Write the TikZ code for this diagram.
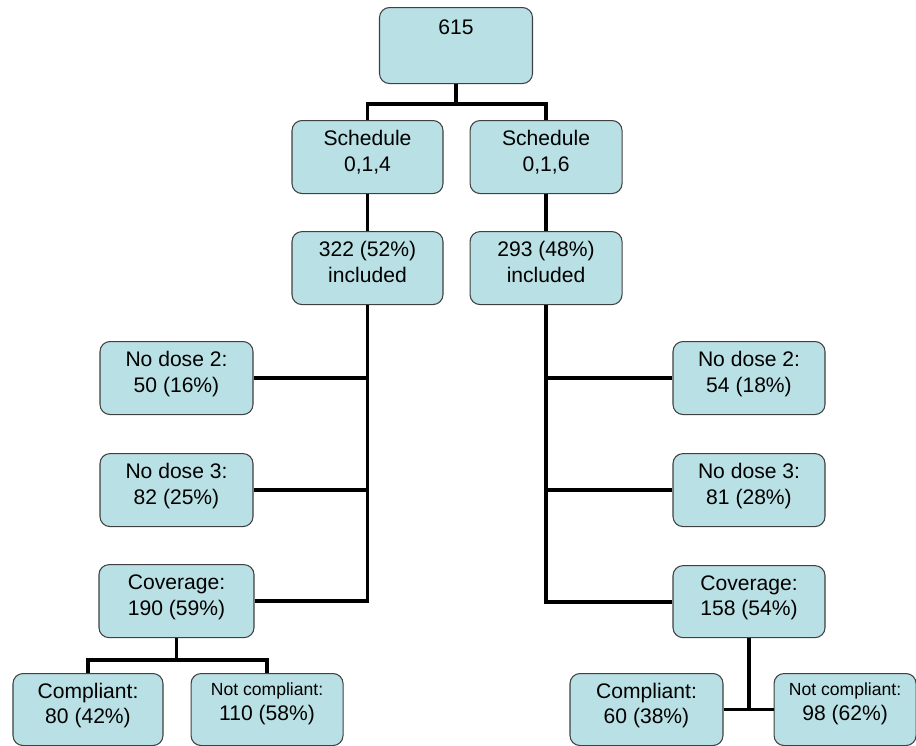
\documentclass[tikz,border=0pt]{standalone}
\usepackage{fontspec}
\setmainfont{Liberation Sans}
\usetikzlibrary{positioning}
\definecolor{boxfill}{RGB}{185,224,228}
\newcommand{\boxtxt}[2][12pt]{\parbox[t][1.3cm][t]{2.7cm}{\centering\rule{0pt}{#1}#2}}
\newcommand{\smalltxt}[1]{{\fontsize{10}{12}\selectfont #1}}

\begin{document}
\begin{tikzpicture}[
  node distance=0.74cm and 0.52cm,
  stage/.style={rectangle, draw=black!75, line width=0.6pt, fill=boxfill,
    rounded corners=0.2cm, minimum width=3.04cm, minimum height=1.46cm,
    inner sep=0pt, font=\fontsize{12}{14.5}\selectfont},
  conn/.style={line width=2.2pt}
]
\useasboundingbox (0,0) rectangle (18.32,-14.92);

% Top
\node[stage, anchor=north, minimum width=3.06cm, minimum height=1.52cm] (all) at (9.12,-0.14) {\boxtxt{615}};

% Schedules
\node[stage, anchor=north, minimum width=3.02cm] (s014) at (7.35,-2.40) {\boxtxt{Schedule\\0,1,4}};
\node[stage, right=0.52cm of s014] (s016) {\boxtxt{Schedule\\0,1,6}};
\node[stage, below=of s014, minimum width=3.02cm] (inc014) {\boxtxt{322 (52\%)\\included}};
\node[stage, below=of s016] (inc016) {\boxtxt{293 (48\%)\\included}};

\coordinate (split) at (9.12,-2.08);
\draw[conn] (all) -- (split);
\draw[conn] (s014.north) |- (split) -| (s016.north);
\draw[conn] (s014) -- (inc014);
\draw[conn] (s016) -- (inc016);

% Left branch
\node[stage, anchor=north, minimum width=3.06cm] (nod2a) at (3.53,-6.82) {\boxtxt{No dose 2:\\50 (16\%)}};
\node[stage, below=0.76cm of nod2a, minimum width=3.06cm] (nod3a) {\boxtxt{No dose 3:\\82 (25\%)}};
\node[stage, below=of nod3a, minimum width=3.1cm] (cova) {\boxtxt{Coverage:\\190 (59\%)}};

\draw[conn] (inc014.south) -- (inc014.south |- cova.east) -- (cova.east);
\draw[conn] (nod2a.east) -- (nod2a.east -| inc014.south);
\draw[conn] (nod3a.east) -- (nod3a.east -| inc014.south);

% Right branch
\node[stage, anchor=north] (nod2b) at (14.98,-6.82) {\boxtxt{No dose 2:\\54 (18\%)}};
\node[stage, below=0.76cm of nod2b] (nod3b) {\boxtxt{No dose 3:\\81 (28\%)}};
\node[stage, below=0.76cm of nod3b, minimum height=1.44cm] (covb) {\boxtxt{Coverage:\\158 (54\%)}};

\draw[conn] (inc016.south) -- (inc016.south |- covb.west) -- (covb.west);
\draw[conn] (nod2b.west) -- (nod2b.west -| inc016.south);
\draw[conn] (nod3b.west) -- (nod3b.west -| inc016.south);

% Compliance, left
\node[stage, anchor=north, minimum width=3.0cm, minimum height=1.44cm] (compa) at (1.76,-13.46) {\boxtxt{Compliant:\\80 (42\%)}};
\node[stage, right=0.54cm of compa, minimum height=1.44cm] (ncompa) {\boxtxt[10.5pt]{\smalltxt{Not compliant:}\\110 (58\%)}};

\draw[conn] (cova.south) -- ++(0,-0.44) coordinate (split2);
\draw[conn] (compa.north) |- (split2) -| (ncompa.north);

% Compliance, right
\node[stage, anchor=north, minimum width=3.06cm, minimum height=1.44cm] (compb) at (12.93,-13.46) {\boxtxt{Compliant:\\60 (38\%)}};
\node[stage, right=1.0cm of compb, minimum width=2.84cm, minimum height=1.44cm] (ncompb) {\boxtxt[10.5pt]{\smalltxt{Not compliant:}\\98 (62\%)}};

\draw[conn] (covb.south) -- (covb.south |- compb.east);
\draw[conn] (compb) -- (ncompb);

\end{tikzpicture}
\end{document}
